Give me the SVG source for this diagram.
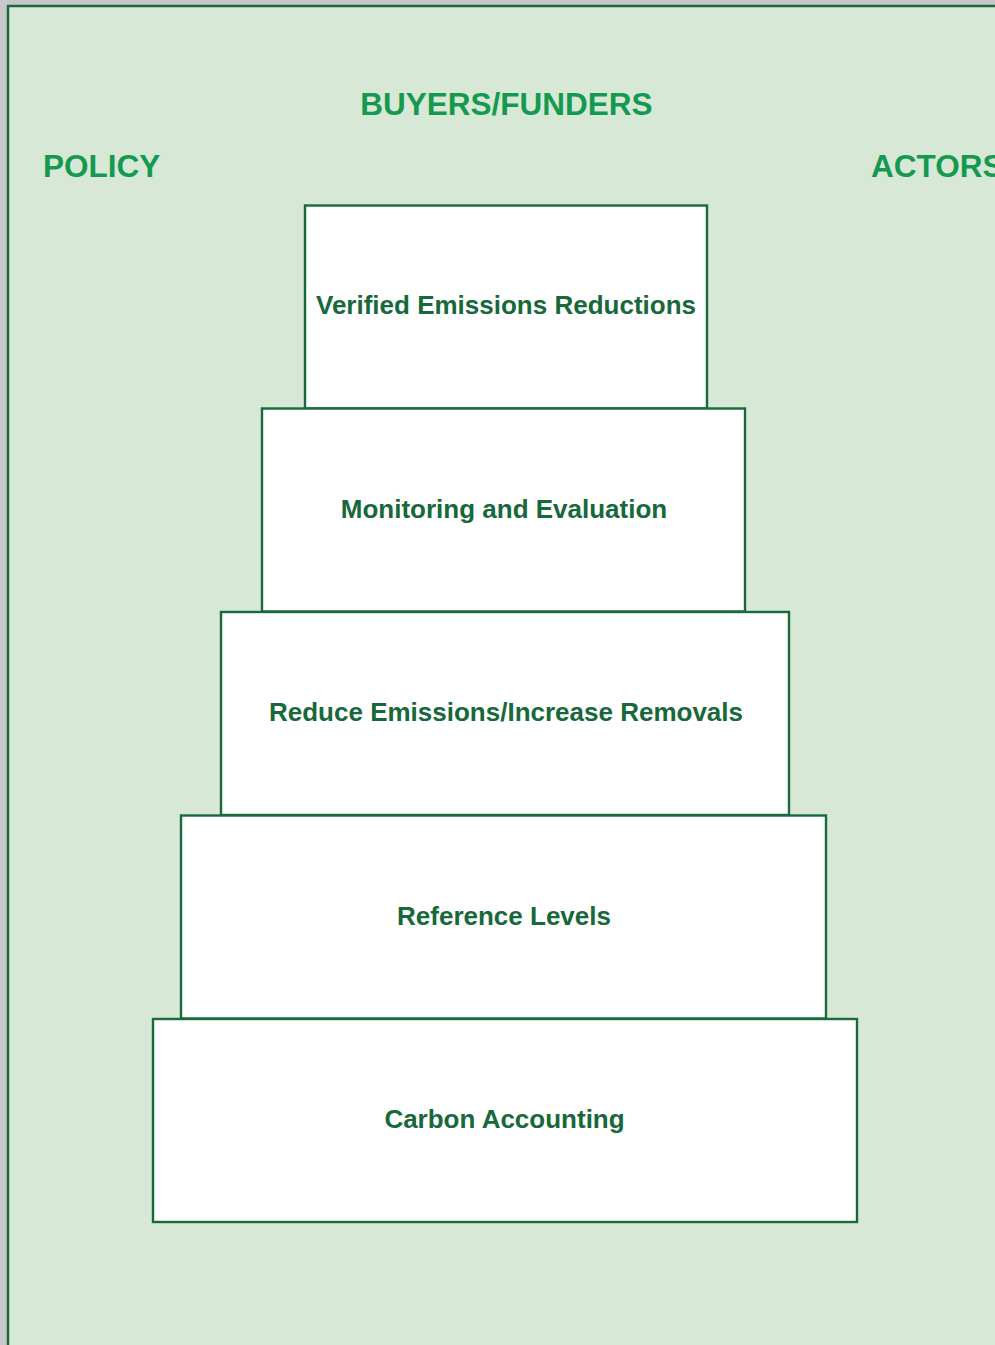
<svg xmlns="http://www.w3.org/2000/svg" width="995" height="1345" viewBox="0 0 995 1345">
<style>
.lvl rect{fill:#ffffff;stroke:#18693b;stroke-width:2.4}
.lvl text{font-family:"Liberation Sans",Arial,sans-serif;font-weight:bold;font-size:26px;fill:#17683a;text-anchor:middle;dominant-baseline:central}
.hdr{font-family:"Liberation Sans",Arial,sans-serif;font-weight:bold;font-size:31.5px;fill:#159951}
</style>
<rect x="0" y="0" width="995" height="1345" fill="#c8c8ca"/>
<rect x="8" y="6" width="995" height="1345" fill="#d7e9d6" stroke="#1b6a3d" stroke-width="2.5"/>
<g id="headers">
<text class="hdr" x="506.5" y="115" text-anchor="middle">BUYERS/FUNDERS</text>
<text class="hdr" x="43" y="177">POLICY</text>
<text class="hdr" x="871" y="177">ACTORS</text>
</g>
<g id="level1" class="lvl"><rect x="305" y="205.5" width="402" height="203"/><text x="506" y="305">Verified Emissions Reductions</text></g>
<g id="level2" class="lvl"><rect x="262" y="408.5" width="483" height="203"/><text x="504" y="509">Monitoring and Evaluation</text></g>
<g id="level3" class="lvl"><rect x="221" y="612" width="568" height="203"/><text x="506" y="712">Reduce Emissions/Increase Removals</text></g>
<g id="level4" class="lvl"><rect x="181" y="815.5" width="645" height="203"/><text x="504" y="916">Reference Levels</text></g>
<g id="level5" class="lvl"><rect x="153" y="1019" width="704" height="203"/><text x="504.5" y="1119">Carbon Accounting</text></g>
<g id="connectors"></g>
</svg>
